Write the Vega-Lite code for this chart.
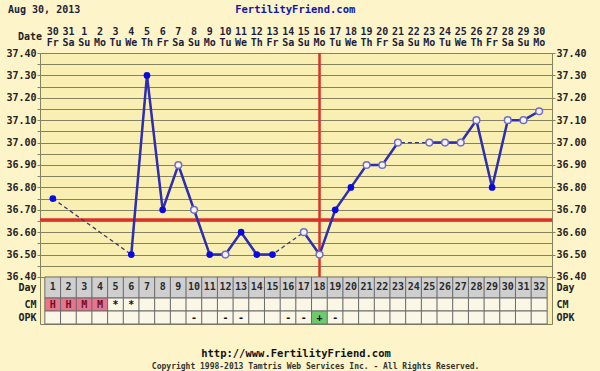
{
  "$schema": "https://vega.github.io/schema/vega-lite/v6.json",
  "width": 512,
  "height": 271,
  "autosize": {"type": "none"},
  "padding": {"left": 40, "top": 53, "right": 48, "bottom": 47},
  "background": "#fdf5c9",
  "config": {
    "view": {"fill": "#faefb2", "stroke": "#85825f"},
    "text": {"font": "DejaVu Sans Mono", "fontWeight": "bold", "fontSize": 10, "color": "#222222"}
  },
  "datasets": {
    "days": [
      {"day": 1, "date": "30", "dow": "Fr", "temp": 36.75, "open": false, "cm": "H"},
      {"day": 2, "date": "31", "dow": "Sa", "temp": null, "cm": "H"},
      {"day": 3, "date": "1", "dow": "Su", "temp": null, "cm": "M"},
      {"day": 4, "date": "2", "dow": "Mo", "temp": null, "cm": "M"},
      {"day": 5, "date": "3", "dow": "Tu", "temp": null, "cm": "*"},
      {"day": 6, "date": "4", "dow": "We", "temp": 36.50, "open": false, "cm": "*"},
      {"day": 7, "date": "5", "dow": "Th", "temp": 37.30, "open": false},
      {"day": 8, "date": "6", "dow": "Fr", "temp": 36.70, "open": false},
      {"day": 9, "date": "7", "dow": "Sa", "temp": 36.90, "open": true},
      {"day": 10, "date": "8", "dow": "Su", "temp": 36.70, "open": true, "opk": "-"},
      {"day": 11, "date": "9", "dow": "Mo", "temp": 36.50, "open": false},
      {"day": 12, "date": "10", "dow": "Tu", "temp": 36.50, "open": true, "opk": "-"},
      {"day": 13, "date": "11", "dow": "We", "temp": 36.60, "open": false, "opk": "-"},
      {"day": 14, "date": "12", "dow": "Th", "temp": 36.50, "open": false},
      {"day": 15, "date": "13", "dow": "Fr", "temp": 36.50, "open": false},
      {"day": 16, "date": "14", "dow": "Sa", "temp": null, "opk": "-"},
      {"day": 17, "date": "15", "dow": "Su", "temp": 36.60, "open": true, "opk": "-"},
      {"day": 18, "date": "16", "dow": "Mo", "temp": 36.50, "open": true, "opk": "+"},
      {"day": 19, "date": "17", "dow": "Tu", "temp": 36.70, "open": false, "opk": "-"},
      {"day": 20, "date": "18", "dow": "We", "temp": 36.80, "open": false},
      {"day": 21, "date": "19", "dow": "Th", "temp": 36.90, "open": true},
      {"day": 22, "date": "20", "dow": "Fr", "temp": 36.90, "open": true},
      {"day": 23, "date": "21", "dow": "Sa", "temp": 37.00, "open": true},
      {"day": 24, "date": "22", "dow": "Su", "temp": null},
      {"day": 25, "date": "23", "dow": "Mo", "temp": 37.00, "open": true},
      {"day": 26, "date": "24", "dow": "Tu", "temp": 37.00, "open": true},
      {"day": 27, "date": "25", "dow": "We", "temp": 37.00, "open": true},
      {"day": 28, "date": "26", "dow": "Th", "temp": 37.10, "open": true},
      {"day": 29, "date": "27", "dow": "Fr", "temp": 36.80, "open": false},
      {"day": 30, "date": "28", "dow": "Sa", "temp": 37.10, "open": true},
      {"day": 31, "date": "29", "dow": "Su", "temp": 37.10, "open": true},
      {"day": 32, "date": "30", "dow": "Mo", "temp": 37.14, "open": true}
    ]
  },
  "data": {"name": "days"},
  "resolve": {"axis": {"y": "independent"}},
  "layer": [
    {
      "mark": {"type": "point", "opacity": 0},
      "encoding": {
        "x": {"field": "day", "type": "quantitative",
          "scale": {"domain": [0.5, 32.5], "nice": false, "zero": false},
          "axis": {"values": [0.5,1.5,2.5,3.5,4.5,5.5,6.5,7.5,8.5,9.5,10.5,11.5,12.5,13.5,14.5,15.5,16.5,17.5,18.5,19.5,20.5,21.5,22.5,23.5,24.5,25.5,26.5,27.5,28.5,29.5,30.5,31.5,32.5],
            "grid": true, "gridColor": "#85825f", "gridOpacity": 1, "gridWidth": 1,
            "labels": false, "ticks": false, "domain": false, "title": null}},
        "y": {"field": "temp", "type": "quantitative",
          "scale": {"domain": [36.19, 37.40], "nice": false, "zero": false},
          "axis": {"orient": "left",
            "values": [36.219, 36.277, 36.353, 36.40, 36.45, 36.50, 36.55, 36.60, 36.65, 36.70, 36.75, 36.80, 36.85, 36.90, 36.95, 37.00, 37.05, 37.10, 37.15, 37.20, 37.25, 37.30, 37.35, 37.40],
            "grid": true, "gridColor": "#85825f", "gridWidth": 1,
            "gridOpacity": {"condition": {"test": "datum.value < 36.39", "value": 0}, "value": 1},
            "tickOpacity": {"condition": {"test": "datum.value < 36.39", "value": 0}, "value": 1},
            "tickSize": 3, "tickColor": "#85825f",
            "labelExpr": "datum.value < 36.39 ? (datum.value > 36.33 ? 'Day' : (datum.value > 36.26 ? 'CM' : 'OPK')) : (round(datum.value * 100) % 10 == 0 ? format(datum.value, '.2f') : '')",
            "labelFont": "DejaVu Sans Mono", "labelFontWeight": "bold", "labelFontSize": 10,
            "labelColor": "#222222", "labelPadding": 1, "labelOverlap": false, "labelFlush": false, "labelBound": false,
            "domain": false, "title": null}}
      }
    },
    {
      "mark": {"type": "point", "opacity": 0},
      "encoding": {
        "x": {"field": "day", "type": "quantitative", "axis": null},
        "y": {"field": "temp", "type": "quantitative",
          "axis": {"orient": "right",
            "values": [36.219, 36.277, 36.353, 36.40, 36.50, 36.60, 36.70, 36.80, 36.90, 37.00, 37.10, 37.20, 37.30, 37.40],
            "grid": false,
            "tickOpacity": {"condition": {"test": "datum.value < 36.39", "value": 0}, "value": 1},
            "tickSize": 3, "tickColor": "#85825f",
            "labelExpr": "datum.value < 36.39 ? (datum.value > 36.33 ? 'Day' : (datum.value > 36.26 ? 'CM' : 'OPK')) : format(datum.value, '.2f')",
            "labelFont": "DejaVu Sans Mono", "labelFontWeight": "bold", "labelFontSize": 10,
            "labelColor": "#222222", "labelPadding": 1, "labelOverlap": false, "labelFlush": false, "labelBound": false,
            "domain": false, "title": null}}
      }
    },
    {
      "mark": {"type": "bar", "width": 16, "fill": "#cfcfcf", "stroke": "#6b6b6b", "strokeWidth": 1},
      "encoding": {
        "x": {"field": "day", "type": "quantitative", "axis": null},
        "y": {"datum": 36.40, "axis": null},
        "y2": {"datum": 36.306}
      }
    },
    {
      "mark": {"type": "bar", "width": 16, "stroke": "#6b6b6b", "strokeWidth": 1},
      "encoding": {
        "x": {"field": "day", "type": "quantitative", "axis": null},
        "y": {"datum": 36.306, "axis": null},
        "y2": {"datum": 36.248},
        "fill": {"condition": {"test": "datum.cm == 'H' || datum.cm == 'M'", "value": "#e8758c"}, "value": "#fbf7e6"}
      }
    },
    {
      "mark": {"type": "bar", "width": 16, "stroke": "#6b6b6b", "strokeWidth": 1},
      "encoding": {
        "x": {"field": "day", "type": "quantitative", "axis": null},
        "y": {"datum": 36.248, "axis": null},
        "y2": {"datum": 36.19},
        "fill": {"condition": {"test": "datum.opk == '+'", "value": "#6ccb6c"}, "value": "#fbf7e6"}
      }
    },
    {
      "mark": {"type": "text", "color": "#2a2a2a"},
      "encoding": {
        "x": {"field": "day", "type": "quantitative", "axis": null},
        "y": {"datum": 36.353, "axis": null},
        "text": {"field": "day"}
      }
    },
    {
      "transform": [{"filter": "datum.cm != null"}],
      "mark": {"type": "text"},
      "encoding": {
        "x": {"field": "day", "type": "quantitative", "axis": null},
        "y": {"datum": 36.277, "axis": null},
        "text": {"field": "cm"},
        "color": {"condition": {"test": "datum.cm == '*'", "value": "#111111"}, "value": "#6a0f25"}
      }
    },
    {
      "transform": [{"filter": "datum.opk != null"}],
      "mark": {"type": "text", "color": "#111111"},
      "encoding": {
        "x": {"field": "day", "type": "quantitative", "axis": null},
        "y": {"datum": 36.219, "axis": null},
        "text": {"field": "opk"}
      }
    },
    {
      "mark": {"type": "text", "color": "#1e1e3a"},
      "encoding": {
        "x": {"field": "day", "type": "quantitative", "axis": null},
        "y": {"datum": 37.495, "axis": null},
        "text": {"field": "date"}
      }
    },
    {
      "mark": {"type": "text", "color": "#1e1e3a"},
      "encoding": {
        "x": {"field": "day", "type": "quantitative", "axis": null},
        "y": {"datum": 37.446, "axis": null},
        "text": {"field": "dow"}
      }
    },
    {
      "data": {"values": [{}]},
      "mark": {"type": "rule", "color": "#d8322b", "strokeWidth": 3},
      "encoding": {"y": {"datum": 36.655, "axis": null}}
    },
    {
      "data": {"values": [{}]},
      "mark": {"type": "rule", "color": "#d8322b", "strokeWidth": 2.5},
      "encoding": {
        "x": {"datum": 18, "axis": null},
        "y": {"datum": 37.40, "axis": null},
        "y2": {"datum": 36.40}
      }
    },
    {
      "transform": [{"filter": "datum.temp != null"}],
      "mark": {"type": "line", "color": "#3a3a6e", "strokeWidth": 1.3, "strokeDash": [4, 3]},
      "encoding": {
        "x": {"field": "day", "type": "quantitative", "axis": null},
        "y": {"field": "temp", "type": "quantitative", "axis": null}
      }
    },
    {
      "mark": {"type": "line", "color": "#2e2eb0", "strokeWidth": 2.5, "invalid": "break-paths-filter-domains"},
      "encoding": {
        "x": {"field": "day", "type": "quantitative", "axis": null},
        "y": {"field": "temp", "type": "quantitative", "axis": null}
      }
    },
    {
      "transform": [{"filter": "datum.temp != null && !datum.open"}],
      "mark": {"type": "point", "filled": true, "size": 45, "color": "#0a0ae0", "opacity": 1},
      "encoding": {
        "x": {"field": "day", "type": "quantitative", "axis": null},
        "y": {"field": "temp", "type": "quantitative", "axis": null}
      }
    },
    {
      "transform": [{"filter": "datum.temp != null && datum.open"}],
      "mark": {"type": "point", "filled": true, "size": 45, "fill": "#f6f2ee", "stroke": "#6d6dcc", "strokeWidth": 1.5, "opacity": 1},
      "encoding": {
        "x": {"field": "day", "type": "quantitative", "axis": null},
        "y": {"field": "temp", "type": "quantitative", "axis": null}
      }
    },
    {
      "data": {"values": [{"label": "Date"}]},
      "mark": {"type": "text", "align": "right", "dx": -3, "color": "#222222"},
      "encoding": {
        "x": {"datum": 0.5, "axis": null},
        "y": {"datum": 37.473, "axis": null},
        "text": {"field": "label"}
      }
    },
    {
      "data": {"values": [{"label": "Aug 30, 2013"}]},
      "mark": {"type": "text", "align": "left", "color": "#1e1e3a"},
      "encoding": {
        "x": {"datum": -1.86, "axis": null},
        "y": {"datum": 37.592, "axis": null},
        "text": {"field": "label"}
      }
    },
    {
      "data": {"values": [{"label": "FertilityFriend.com"}]},
      "mark": {"type": "text", "align": "center", "color": "#1414a8", "fontSize": 10.5},
      "encoding": {
        "x": {"datum": 16.45, "axis": null},
        "y": {"datum": 37.592, "axis": null},
        "text": {"field": "label"}
      }
    },
    {
      "data": {"values": [{"label": "http://www.FertilityFriend.com"}]},
      "mark": {"type": "text", "align": "center", "color": "#111111", "fontSize": 10.5},
      "encoding": {
        "x": {"datum": 16.5, "axis": null},
        "y": {"datum": 36.054, "axis": null},
        "text": {"field": "label"}
      }
    },
    {
      "data": {"values": [{"label": "Copyright 1998-2013 Tamtris Web Services Inc. - All Rights Reserved."}]},
      "mark": {"type": "text", "align": "center", "color": "#333333", "fontSize": 8},
      "encoding": {
        "x": {"datum": 17.75, "axis": null},
        "y": {"datum": 35.997, "axis": null},
        "text": {"field": "label"}
      }
    }
  ]
}
